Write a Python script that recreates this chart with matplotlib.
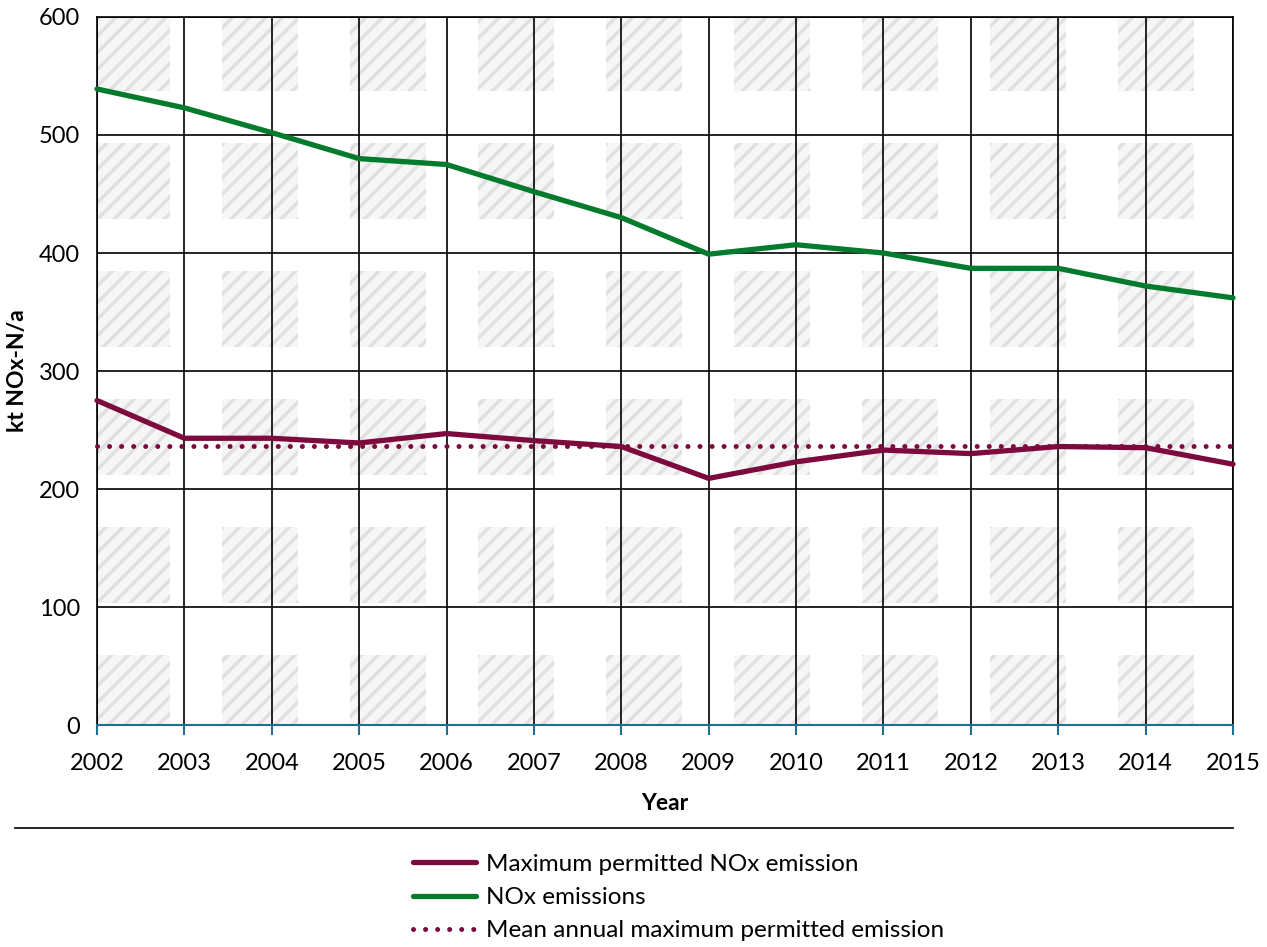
import matplotlib
matplotlib.use("Agg")
import matplotlib.pyplot as plt
from matplotlib.patches import Rectangle
from matplotlib.lines import Line2D

years = [2002, 2003, 2004, 2005, 2006, 2007, 2008, 2009, 2010, 2011, 2012, 2013, 2014, 2015]
nox_emissions = [539, 523, 502, 480, 475, 452, 430, 399, 407, 400, 387, 387, 372, 362]
max_permitted = [275, 243, 243, 239, 247, 241, 236, 209, 223, 233, 230, 236, 235, 221]
mean_permitted = 236.5
y_ticks = [0, 100, 200, 300, 400, 500, 600]

maroon = "#7d0a3c"
green = "#047a2c"

plt.rcParams["font.family"] = ["Lato", "DejaVu Sans"]
plt.rcParams["hatch.linewidth"] = 2.5

fig = plt.figure(figsize=(12.67, 9.47), dpi=100)
ax = fig.add_axes([97 / 1267, 1 - 725 / 947, 1136 / 1267, 708 / 947])

# background texture: hatched grey squares tiled over plot area
px_w, px_h = 1136, 708
period = 128
size = 76
x0, y0 = -3, -2
for i in range(10):
    for j in range(7):
        left = (x0 + i * period) / px_w
        top = 1 - (y0 + j * period) / px_h
        r = Rectangle((left, top - size / px_h), size / px_w, size / px_h,
                      transform=ax.transAxes, facecolor="#f6f6f6",
                      edgecolor="#e0e0e0", hatch="//", lw=0, zorder=0)
        ax.add_patch(r)

ax.plot(years, max_permitted, color=maroon, lw=3.8, solid_joinstyle="round",
        solid_capstyle="round", zorder=4, clip_on=False)
ax.plot(years, nox_emissions, color=green, lw=3.8, solid_joinstyle="round",
        solid_capstyle="round", zorder=4, clip_on=False)
ax.plot(years, [mean_permitted] * len(years), color=maroon, lw=3.6,
        dashes=(0.01, 2.4), dash_capstyle="round", zorder=4, clip_on=False)

ax.set_xlim(years[0], years[-1])
ax.set_ylim(0, 600)
ax.set_xticks(years)
ax.set_yticks(y_ticks)
ax.grid(True, color="black", lw=1.2, zorder=1)
ax.set_axisbelow(False)
for g in ax.get_xgridlines() + ax.get_ygridlines():
    g.set_zorder(1)

for s in ["top", "right", "left"]:
    ax.spines[s].set_color("black")
    ax.spines[s].set_linewidth(1.2)
ax.spines["bottom"].set_color("#1f6e96")
ax.spines["bottom"].set_linewidth(1.5)
ax.spines["bottom"].set_zorder(3)

ax.tick_params(axis="x", colors="#1f6e96", direction="out", length=7, width=1.5,
               labelcolor="black", labelsize=17, pad=13)
ax.tick_params(axis="y", length=0, labelsize=17, pad=12)

ax.set_xlabel("Year", fontsize=16.5, fontweight="bold", labelpad=14)
ax.set_ylabel("kt NOx-N/a", fontsize=16.5, fontweight="bold", labelpad=8)

fig.add_artist(Line2D([15 / 1267, 1233 / 1267], [1 - 828 / 947, 1 - 828 / 947],
                      color="black", lw=1.2))

handles = [
    Line2D([], [], color=maroon, lw=3.8, solid_capstyle="round"),
    Line2D([], [], color=green, lw=3.8, solid_capstyle="round"),
    Line2D([], [], color=maroon, lw=3.6, dashes=(0.01, 2.4), dash_capstyle="round"),
]
labels = ["Maximum permitted NOx emission", "NOx emissions",
          "Mean annual maximum permitted emission"]
fig.legend(handles, labels, loc="upper left", bbox_to_anchor=(391 / 1267, 1 - 832 / 947),
           frameon=False, fontsize=17.5, handlelength=2.6, handletextpad=0.4,
           labelspacing=0.5)

fig.savefig("out.png", dpi=100)
